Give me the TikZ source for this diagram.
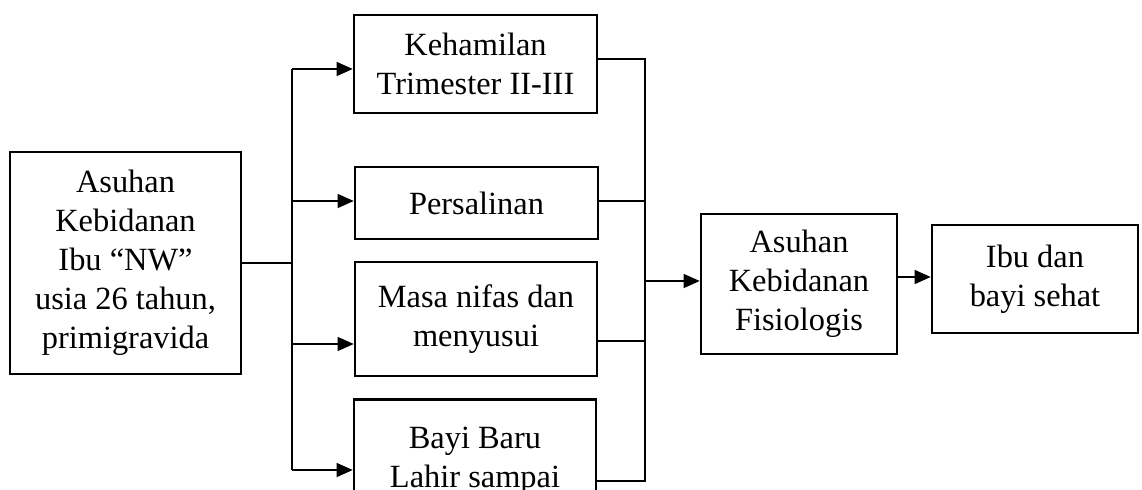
\documentclass[tikz,border=0pt]{standalone}
\usepackage{fontspec}
\setmainfont{Liberation Serif}
\usetikzlibrary{arrows.meta}
\begin{document}
\begin{tikzpicture}[x=0.5pt,y=-0.5pt,
    kotak/.style={draw, line width=1.3pt, align=center, inner sep=0pt,
      font=\fontsize{16.2}{19.5}\selectfont},
    garis/.style={line width=0.6pt},
    panah/.style={garis, -{Triangle[length=8pt,width=7pt]}}]
      \useasboundingbox (0,0) rectangle (1142,490);
      \clip (0,0) rectangle (1142,490);
      \node[kotak, minimum width=115.5pt, minimum height=111pt] (asuhan) at (125.5,263) {Asuhan\\Kebidanan\\Ibu “NW”\\usia 26 tahun,\\primigravida};
      \node[kotak, minimum width=121.5pt, minimum height=49pt] (hamil) at (475.5,64) {Kehamilan\\Trimester II-III};
      \node[kotak, minimum width=121.5pt, minimum height=36pt] (salin) at (476.5,203) {Persalinan};
      \node[kotak, minimum width=121pt, minimum height=57pt] (nifas) at (476,319) {Masa nifas dan\\menyusui};
      \node[kotak, minimum width=121pt, minimum height=100pt, anchor=north] (bayi) at (475,398) {};
      \node[kotak, draw=none, anchor=north] (bayiteks) at (475,425.5) {Bayi Baru\\Lahir sampai};
      \node[kotak, minimum width=98pt, minimum height=70pt] (fisio) at (799,284) {Asuhan\\Kebidanan\\Fisiologis};
      \node[kotak, minimum width=103pt, minimum height=54pt] (ibu) at (1035,279) {Ibu dan\\bayi sehat};
      \coordinate (kiri1) at (292,69);
      \coordinate (kiri2) at (292,201);
      \coordinate (kiri3) at (292,344);
      \coordinate (kiri4) at (292,470);
      \coordinate (kanan1) at (645,59);
      \coordinate (kanan2) at (645,201);
      \coordinate (kanan3) at (645,341);
      \coordinate (kanan4) at (645,481);
      \coordinate (kanan5) at (645,281);
      \draw[garis] (asuhan.east) -- (asuhan.east -| kiri1);
      \draw[garis] (kiri1) -- (kiri4);
      \draw[panah] (kiri1) -- (kiri1 -| hamil.west);
      \draw[panah] (kiri2) -- (kiri2 -| salin.west);
      \draw[panah] (kiri3) -- (kiri3 -| nifas.west);
      \draw[panah] (kiri4) -- (kiri4 -| bayi.west);
      \draw[garis] (kanan1 -| hamil.east) -- (kanan1) -- (kanan4) -- (kanan4 -| bayi.east);
      \draw[garis] (kanan2 -| salin.east) -- (kanan2);
      \draw[garis] (kanan3 -| nifas.east) -- (kanan3);
      \draw[panah] (kanan5) -- (kanan5 -| fisio.west);
      \draw[panah] ([yshift=3.5pt]fisio.east) -- ([yshift=3.5pt]fisio.east -| ibu.west);
\end{tikzpicture}
\end{document}
